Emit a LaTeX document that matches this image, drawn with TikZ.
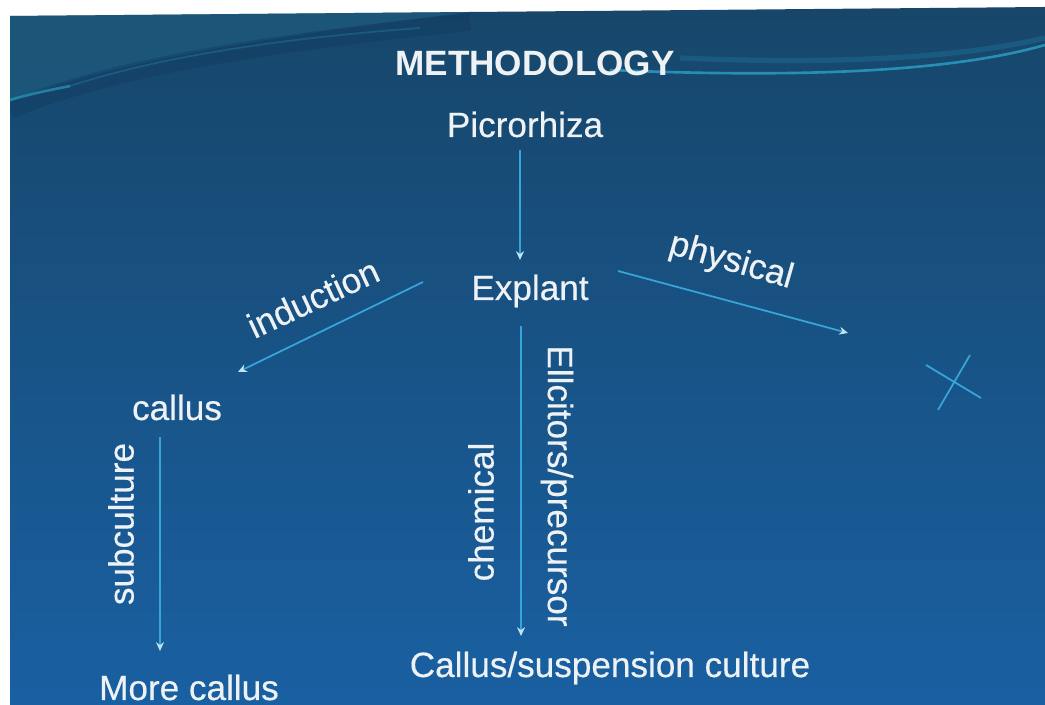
\documentclass[tikz,border=0pt]{standalone}
\usepackage{fontspec}
\setmainfont{Liberation Sans}
\newfontface\slidefont{Liberation Sans}[FakeBold=0.35]
\usetikzlibrary{arrows.meta,calc}
\definecolor{bgtop}{HTML}{17466A}
\definecolor{bgmid}{HTML}{134583}
\definecolor{bgbot}{HTML}{1960A2}
\definecolor{bgteal}{HTML}{1E5F80}
\definecolor{bgdark}{HTML}{10375C}
\definecolor{linec}{HTML}{36A6DA}
\definecolor{tipc}{HTML}{BFE4F2}
\definecolor{txt}{HTML}{EEF2F4}
\definecolor{wavec}{HTML}{2FA6CC}
\begin{document}
\begin{tikzpicture}[x=0.02cm,y=-0.02cm,
  lbl/.style={text=txt,inner sep=0pt,font=\fontsize{20}{24}\slidefont},
  ttl/.style={text=txt,inner sep=0pt,font=\fontsize{20}{24}\selectfont\bfseries},
  arr/.style={draw=linec,line width=1pt,-{Stealth[length=5pt,width=4.5pt,color=tipc,fill=tipc]}},
  cross/.style={draw=linec,line width=1pt},
  wave/.style={draw=wavec,line width=1.5pt}]
\useasboundingbox (0,0) rectangle (1045,705);
\fill[white] (0,0) rectangle (1045,705);
\shade[top color=bgtop,middle color=bgmid,bottom color=bgbot] (10,16) -- (1045,7) -- (1045,705) -- (10,705) -- cycle;
% background swooshes, kept inside the slide
\begin{scope}
\clip (10,16) -- (1045,7) -- (1045,705) -- (10,705) -- cycle;
\fill[bgteal,opacity=0.6] (10,16) -- (470,12) .. controls (260,38) and (110,62) .. (10,102) -- cycle;
\draw[bgdark,line width=10pt,opacity=0.35] (10,110) .. controls (110,68) and (260,44) .. (470,22);
\draw[wave,opacity=0.6] (10,100) .. controls (30,94) and (50,90) .. (70,86);
\draw[wave,opacity=0.25,line width=1pt] (70,86) .. controls (150,60) and (260,40) .. (420,28);
\draw[wave,opacity=0.75] (610,70) .. controls (800,78) and (950,72) .. (1045,45);
\draw[wave,opacity=0.2,line width=3pt] (680,58) .. controls (820,64) and (950,60) .. (1045,38);
\end{scope}
% nodes
\node[ttl,anchor=base] (title) at (535,76) {METHODOLOGY};
\node[lbl,anchor=base] (picro) at (525,137) {Picrorhiza};
\node[lbl,anchor=base] (explant) at (530,300) {Explant};
\node[lbl,anchor=base] (callus) at (177,420) {callus};
\node[lbl,anchor=base] (more) at (189,700) {More callus};
\node[lbl,anchor=base] (cult) at (610,677) {Callus/suspension culture};
% edge labels
\node[lbl,rotate=25] (lind) at (313,298) {induction};
\node[lbl,rotate=-16] (lphys) at (731,262) {physical};
\node[lbl,rotate=90] (lsub) at (121,524) {subculture};
\node[lbl,rotate=90] (lchem) at (481,512) {chemical};
\node[lbl,rotate=-90] (lelic) at (557,486) {Ellcitors/precursor};
\coordinate (physend) at (848,333);
% connectors
\draw[arr] ($(picro.base)+(-5,13)$) -- ($(explant.base)+(-10,-40)$);
\draw[arr] ($(explant.base)+(-107,-18)$) -- ($(callus.base)+(61,-48)$);
\draw[arr] ($(explant.base)+(88,-29)$) -- (physend);
\draw[arr] ($(explant.base)+(-9,26)$) -- ($(cult.base)+(-89,-41)$);
\draw[arr] ($(callus.base)+(-17,17)$) -- ($(more.base)+(-29,-49)$);
% cross mark
\draw[cross] (926,365) -- (981,398);
\draw[cross] (970,355) -- (938,410);
\end{tikzpicture}
\end{document}
